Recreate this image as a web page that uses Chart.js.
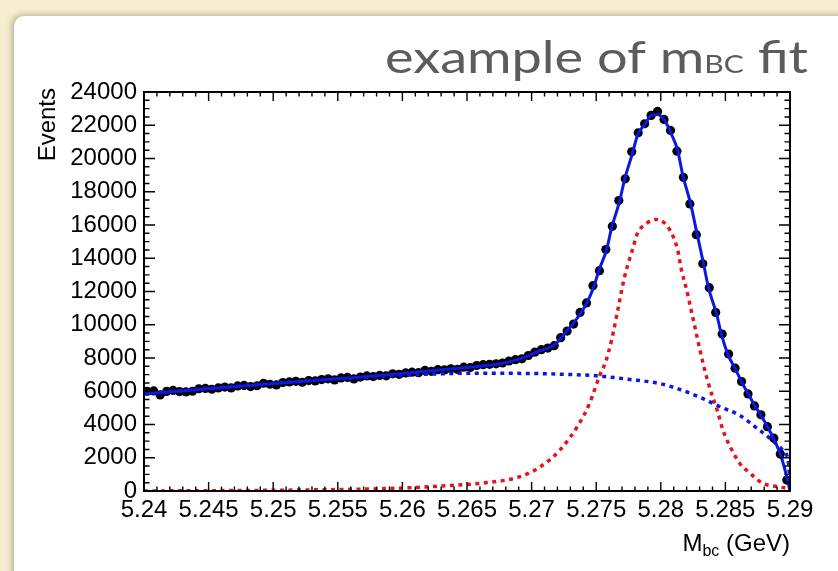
<!DOCTYPE html>
<html>
<head>
<meta charset="utf-8">
<script src="https://cdn.jsdelivr.net/npm/chart.js@4.4.1/dist/chart.umd.min.js"></script>
<style>
html,body{margin:0;padding:0;}
body{width:838px;height:571px;overflow:hidden;background:#f7eed2;position:relative;}
#panel{position:absolute;left:14px;top:16px;width:900px;height:700px;background:#fff;
border-radius:10px;box-shadow:-2px -1px 6px rgba(90,70,30,0.4);}
#mainChart{position:absolute;left:0;top:0;}
</style>
</head>
<body>
<div id="panel"></div>
<canvas id="mainChart" width="838" height="571"></canvas>
<script>

/* HISTOGRAM (100 bins, 5.24 - 5.29) */

const binLow = 5.24;
const binWidth = 0.0005;

const counts = [
6000,6020,5780,5990,6050,5980,5960,6000,6150,6170,
6120,6200,6250,6200,6320,6350,6280,6330,6480,6420,
6380,6520,6560,6600,6540,6640,6620,6700,6750,6680,
6800,6830,6740,6850,6920,6880,6950,6930,7050,7020,
7100,7150,7120,7250,7200,7300,7280,7350,7320,7450,
7430,7550,7600,7620,7650,7700,7820,7900,7950,8150,
8350,8500,8600,8740,9220,9620,10040,10740,11310,12350,
13250,14520,15920,17470,18780,20400,21550,22090,22590,22830,
22350,21690,20440,18870,17270,15420,13670,12230,10740,9440,
8240,7390,6580,5840,5120,4580,3870,3180,2230,660
];

/* FIT CURVES */

const totalX = [5.2400,5.2443,5.2499,5.2550,5.2598,5.2645,5.2676,5.2691,5.2707,5.2717,
5.2723,5.2727,5.2732,5.2738,5.2743,5.2748,5.2752,5.2758,5.2762,5.2768,
5.2772,5.2778,5.2782,5.2788,5.2792,5.2797,5.2803,5.2808,5.2813,5.2817,
5.2823,5.2828,5.2833,5.2837,5.2843,5.2847,5.2852,5.2858,5.2863,5.2868,
5.2873,5.2878,5.2883,5.2888,5.2893,5.2897,5.2900];
const totalY = [5830,6100,6450,6750,7050,7400,7650,7950,8450,8750,
9200,9600,10050,10700,11350,12250,13250,14500,15850,17400,
18750,20300,21400,22100,22550,22650,22300,21500,20500,19000,
17300,15500,13700,12200,10700,9400,8200,7300,6500,5800,
5100,4500,3800,3050,2100,1000,0];

const bgX = [5.2400,5.2450,5.2500,5.2550,5.2600,5.2650,5.2700,5.2725,5.2750,5.2775,
5.2800,5.2815,5.2830,5.2845,5.2861,5.2874,5.2884,5.2894,5.2899,5.2900];
const bgY = [5850,6180,6480,6750,6960,7080,7070,7020,6930,6720,
6450,6100,5650,5100,4550,3800,3200,2500,1600,0];

const sigX = [5.2400,5.2521,5.2598,5.2629,5.2660,5.2691,5.2707,5.2722,5.2737,5.2745,
5.2753,5.2757,5.2762,5.2767,5.2772,5.2778,5.2782,5.2789,5.2796,5.2799,
5.2807,5.2813,5.2816,5.2820,5.2824,5.2828,5.2832,5.2836,5.2840,5.2844,
5.2848,5.2855,5.2861,5.2869,5.2879,5.2890,5.2900];
const sigY = [0,60,170,300,460,860,1470,2470,4080,5300,
7000,7700,9100,11000,12900,14500,15500,16100,16330,16300,
15700,14500,13300,12100,10700,9300,7900,6700,5680,4780,
3680,2470,1670,1070,460,260,150];

/* AXES */

const xMin = 5.24, xMax = 5.29, xStep = 0.005, xMinor = 0.001;
const yMin = 0, yMax = 24000, yStep = 2000, yMinor = 500;

const pts = (xs, ys) => xs.map((v, i) => ({x: v, y: ys[i]}));
const dataPts = counts.map((c, i) => ({x: binLow + binWidth * (i + 0.5), y: c}));

const blue = "#0c18e0";
const red = "#e3141b";
const labelFont = "Liberation Sans, Arial, Helvetica, sans-serif";

/* FRAME, INNER TICKS, TITLES */

const rootFrame = {
id: "rootFrame",
afterDatasetsDraw(chart) {
const {ctx, chartArea: a, scales: {x, y}} = chart;
ctx.save();
ctx.strokeStyle = "#000";
ctx.lineWidth = 1.4;
ctx.beginPath();
const nx = Math.round((xMax - xMin) / xMinor);
for (let k = 0; k <= nx; k++) {
const px = x.getPixelForValue(xMin + k * xMinor);
const len = k % 5 === 0 ? 9 : 4.5;
ctx.moveTo(px, a.bottom); ctx.lineTo(px, a.bottom - len);
ctx.moveTo(px, a.top); ctx.lineTo(px, a.top + len);
}
const ny = Math.round((yMax - yMin) / yMinor);
for (let k = 0; k <= ny; k++) {
const py = y.getPixelForValue(yMin + k * yMinor);
const len = k % 4 === 0 ? 11 : 5.5;
ctx.moveTo(a.left, py); ctx.lineTo(a.left + len, py);
ctx.moveTo(a.right, py); ctx.lineTo(a.right - len, py);
}
ctx.stroke();
ctx.lineWidth = 2;
ctx.strokeRect(a.left, a.top, a.right - a.left, a.bottom - a.top);

/* y title */
ctx.fillStyle = "#000";
ctx.font = "24px " + labelFont;
ctx.save();
ctx.translate(55, a.top - 4);
ctx.rotate(-Math.PI / 2);
ctx.textAlign = "right";
ctx.textBaseline = "alphabetic";
ctx.fillText("Events", 0, 0);
ctx.restore();

/* x title */
ctx.textAlign = "left";
ctx.textBaseline = "alphabetic";
const big = "24px " + labelFont, small = "16px " + labelFont;
ctx.font = big; const wM = ctx.measureText("M").width;
const wG = ctx.measureText(" (GeV)").width;
ctx.font = small; const wb = ctx.measureText("bc").width;
let tx = a.right - (wM + wb + wG);
ctx.font = big; ctx.fillText("M", tx, 551); tx += wM;
ctx.font = small; ctx.fillText("bc", tx, 556); tx += wb;
ctx.font = big; ctx.fillText(" (GeV)", tx, 551);

/* slide title, stretched to the width it has on the slide */
ctx.fillStyle = "#5c5c5c";
const tb = "45px Lato, 'Open Sans', sans-serif", ts = "25px Lato, 'Open Sans', sans-serif";
ctx.font = tb; const w1 = ctx.measureText("example of m").width;
const w3 = ctx.measureText(" fit").width;
ctx.font = ts; const w2 = ctx.measureText("BC").width;
const W = w1 + w2 + w3, target = 423;
ctx.save();
ctx.translate(808 - target, 73);
ctx.scale(target / W, 1);
let sx = 0;
ctx.font = tb; ctx.fillText("example of m", sx, 0); sx += w1;
ctx.font = ts; ctx.fillText("BC", sx, 0); sx += w2;
ctx.font = tb; ctx.fillText(" fit", sx, 0);
ctx.restore();
ctx.restore();
}
};

/* CHART SETUP */

const ctx = document.getElementById("mainChart");

const chart = new Chart(ctx, {

type: "scatter",

data: {

datasets: [

{
label: "fit",
data: pts(totalX, totalY),
showLine: true,
borderColor: blue,
borderWidth: 3,
pointRadius: 0,
cubicInterpolationMode: "monotone",
fill: false
},

{
label: "background",
data: pts(bgX, bgY),
showLine: true,
borderColor: blue,
borderWidth: 3.5,
borderDash: [4, 4.5],
pointRadius: 0,
cubicInterpolationMode: "monotone",
fill: false
},

{
label: "signal",
data: pts(sigX, sigY),
showLine: true,
borderColor: red,
borderWidth: 3.5,
borderDash: [4, 4.5],
pointRadius: 0,
cubicInterpolationMode: "monotone",
fill: false
},

{
label: "data",
data: dataPts,
showLine: false,
pointRadius: 4.6,
pointBackgroundColor: "#000",
pointBorderWidth: 0,
pointBorderColor: "#000"
}

]

},

options: {

responsive: false,
animation: false,
devicePixelRatio: 1,

layout: {
padding: {left: 0, right: 48, top: 92, bottom: 0}
},

plugins: {
legend: {display: false},
tooltip: {enabled: false}
},

scales: {

x: {
type: "linear",
min: xMin,
max: xMax,
grid: {display: false, drawTicks: false},
border: {display: false},
ticks: {
stepSize: xStep,
autoSkip: false,
maxRotation: 0,
padding: 5,
color: "#000",
font: {family: labelFont, size: 24},
callback: (v) => String(Number(v.toFixed(3)))
},
afterFit: (s) => { s.height = 80; }
},

y: {
min: yMin,
max: yMax,
grid: {display: false, drawTicks: false},
border: {display: false},
ticks: {
stepSize: yStep,
autoSkip: false,
padding: 7,
color: "#000",
font: {family: labelFont, size: 24},
callback: (v) => String(v)
},
afterFit: (s) => { s.width = 144; }
}

}

},

plugins: [rootFrame]

});

</script>
</body>
</html>
